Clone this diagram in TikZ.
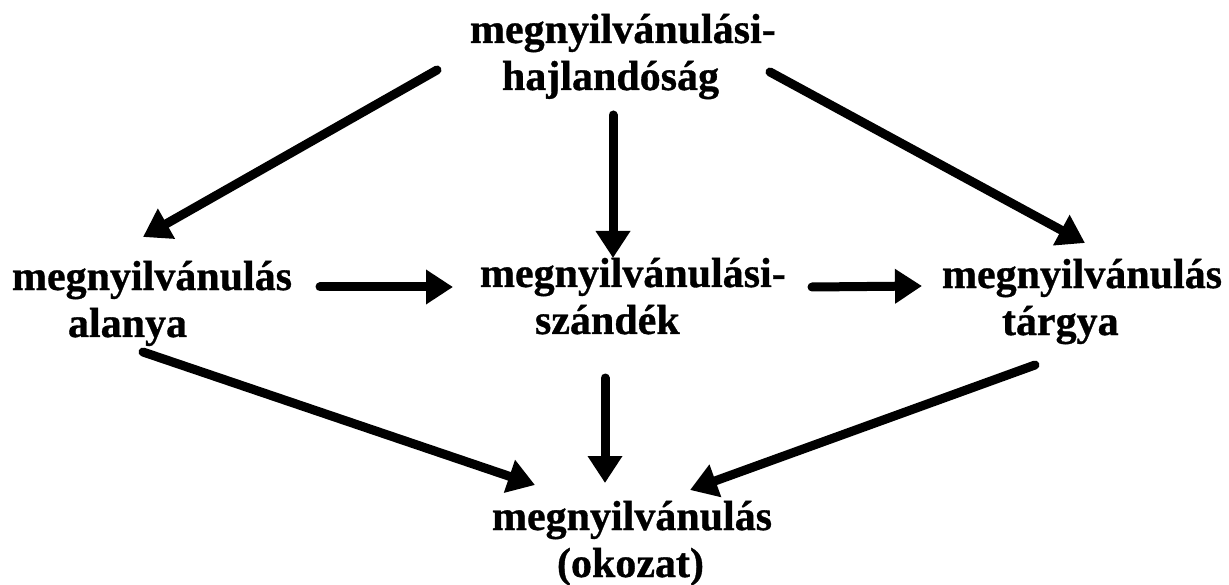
\documentclass[tikz,border=0pt]{standalone}
\usepackage{fontspec}
\setmainfont{Liberation Serif}[BoldFeatures={FakeBold=0.8}]
\usetikzlibrary{arrows.meta}
\begin{document}
\begin{tikzpicture}[x=1pt,y=-1pt,
  lbl/.style={inner sep=0pt, outer sep=0pt, align=left, anchor=base west,
    font=\fontsize{42}{47}\selectfont\bfseries},
  arr/.style={line width=9pt, line cap=round,
    -{Triangle[length=27pt,width=33pt]}}]
\useasboundingbox[fill=white] (0,0) rectangle (1229,585);

% concepts (placed at the baseline of their last line)
\node[lbl] (top)    at (470,90)  {megnyilvánulási-\\\hspace*{32pt}hajlandóság};
\node[lbl] (subj)   at (12,337)  {megnyilvánulás\\\hspace*{56pt}alanya};
\node[lbl] (intent) at (480,334) {megnyilvánulási-\\\hspace*{55pt}szándék};
\node[lbl] (obj)    at (942,335) {megnyilvánulás\\\hspace*{60pt}tárgya};
\node[lbl] (result) at (492,577) {megnyilvánulás\\\hspace*{65pt}(okozat)};

% influences
\draw[arr] ([shift={(-33,-20)}]top.base west)   -- ([shift={(131,-100)}]subj.base west);
\draw[arr] ([shift={(143,25)}]top.base west)    -- ([shift={(133,-76)}]intent.base west);
\draw[arr] ([shift={(300,-18)}]top.base west)   -- ([shift={(143,-92)}]obj.base west);
\draw[arr] ([shift={(308,-50)}]subj.base west)  -- ([shift={(-27,-47)}]intent.base west);
\draw[arr] ([shift={(332,-47)}]intent.base west) -- ([shift={(-20,-49)}]obj.base west);
\draw[arr] ([shift={(131,15)}]subj.base west)   -- ([shift={(43,-92)}]result.base west);
\draw[arr] ([shift={(125,44)}]intent.base west) -- ([shift={(113,-94)}]result.base west);
\draw[arr] ([shift={(93,30)}]obj.base west)     -- ([shift={(198,-87)}]result.base west);
\end{tikzpicture}
\end{document}
